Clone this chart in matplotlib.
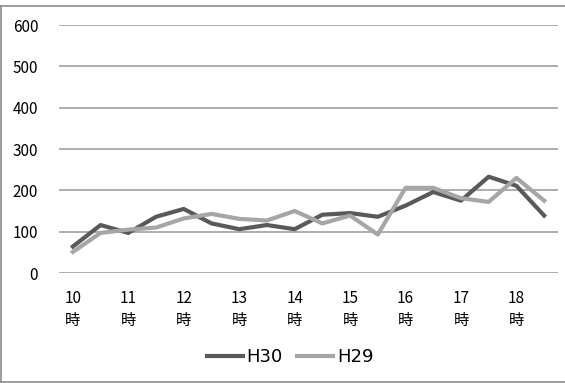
import matplotlib
matplotlib.use("Agg")
import matplotlib.pyplot as plt
from matplotlib.lines import Line2D

plt.rcParams['font.family'] = ['Noto Sans CJK JP', 'DejaVu Sans']

categories = ["10\n時", "", "11\n時", "", "12\n時", "", "13\n時", "", "14\n時", "",
              "15\n時", "", "16\n時", "", "17\n時", "", "18\n時", ""]
h30 = [64, 116, 97, 136, 155, 120, 106, 116, 106, 141, 145, 136, 163, 196, 175, 233, 211, 139]
h29 = [51, 97, 105, 110, 132, 143, 131, 127, 150, 120, 139, 93, 206, 206, 181, 172, 230, 175]
yticks = [0, 100, 200, 300, 400, 500, 600]

W, H = 565, 383
fig = plt.figure(figsize=(W / 100, H / 100), dpi=100)
# chart border (left, top, bottom visible)
bc = '#8c8c8c'
fig.add_artist(Line2D([0.5 / W, 0.5 / W], [1 - 6 / H, 1 - 381.5 / H], color=bc, lw=1.2,
                      transform=fig.transFigure))
fig.add_artist(Line2D([0, 1], [1 - 6 / H, 1 - 6 / H], color=bc, lw=1.2,
                      transform=fig.transFigure))
fig.add_artist(Line2D([0, 1], [1 - 381.5 / H, 1 - 381.5 / H], color=bc, lw=1.2,
                      transform=fig.transFigure))

ax = fig.add_axes([59 / W, 1 - 273 / H, (558 - 59) / W, (273 - 25) / H])

x = list(range(len(categories)))
ax.plot(x, h30, color='#595959', lw=3, label='H30')
ax.plot(x, h29, color='#a6a6a6', lw=3, label='H29')

ax.set_xlim(-0.5, len(categories) - 0.5)
ax.set_ylim(0, 600)
ax.set_yticks(yticks)
ax.set_yticklabels([str(v) for v in yticks], fontsize=11)
ax.set_xticks(x)
ax.set_xticklabels(categories, fontsize=11, linespacing=1.4, va='top')
ax.tick_params(length=0)
ax.tick_params(axis='y', pad=15)
ax.tick_params(axis='x', pad=12)
ax.grid(axis='y', color='#a0a0a0', lw=1.2)
ax.set_axisbelow(True)
for s in ax.spines.values():
    s.set_visible(False)

leg = fig.legend(loc='center', bbox_to_anchor=(290 / W, 1 - 357 / H), ncol=2, frameon=False,
                 fontsize=13, handlelength=2.0, handletextpad=0.2, columnspacing=0.8)
for t in leg.get_texts():
    t.set_family('DejaVu Sans')

fig.savefig('out.png', dpi=100)
